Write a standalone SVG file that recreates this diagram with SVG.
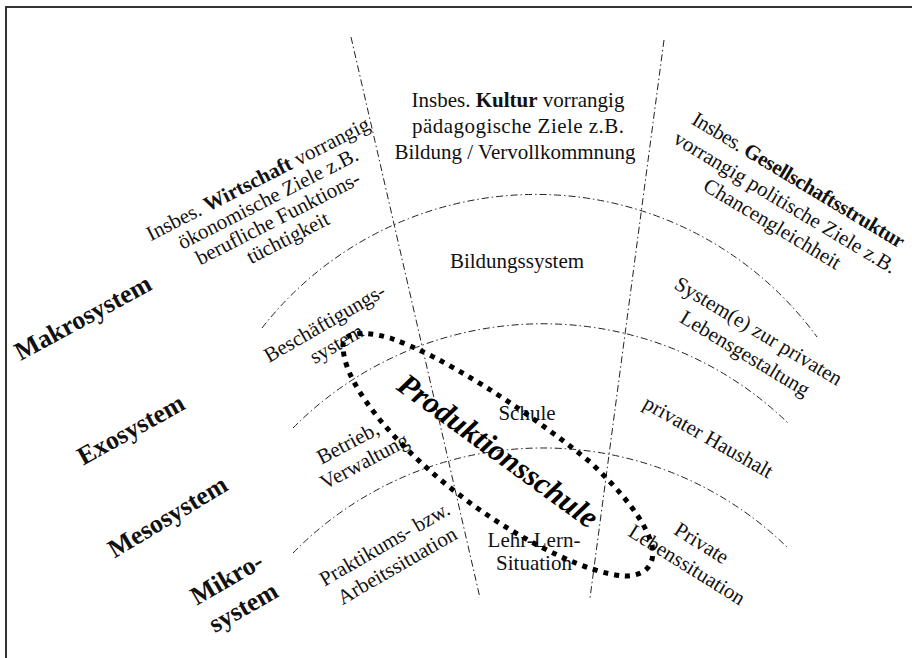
<svg xmlns="http://www.w3.org/2000/svg" width="912" height="658" viewBox="0 0 912 658">
<style>
.t{font-family:"Liberation Serif","Times New Roman",serif;font-size:21px;fill:#111}
.b{font-weight:bold}
.big{font-family:"Liberation Serif","Times New Roman",serif;font-size:26px;font-weight:bold;fill:#111}
.ps{font-family:"Liberation Serif","Times New Roman",serif;font-size:31px;font-weight:bold;font-style:italic;fill:#000}
.dd{fill:none;stroke:#222;stroke-width:1;stroke-dasharray:7 3 1.5 3}
.loop{fill:none;stroke:#000;stroke-width:5;stroke-dasharray:5 6}
</style>
<rect width="912" height="658" fill="#fff"/>
<path d="M6,658 V7 H912" fill="none" stroke="#333" stroke-width="2"/>

<g id="connectors">
  <path class="dd" d="M351,37 L480,598"/>
  <path class="dd" d="M664,40 L590,598"/>
  <path class="dd" d="M262,328 A348,348 0 0 1 817,337"/>
  <path class="dd" d="M293,428 A352,352 0 0 1 788,423"/>
  <path class="dd" d="M293,553 A350,350 0 0 1 788,548"/>
</g>

<g id="kultur" text-anchor="middle">
  <text class="t" x="518" y="107">Insbes. <tspan class="b">Kultur</tspan> vorrangig</text>
  <text class="t" x="518" y="133" textLength="212">pädagogische Ziele z.B.</text>
  <text class="t" x="515" y="159">Bildung / Vervollkommnung</text>
</g>

<g id="wirtschaft" transform="translate(261,185) rotate(-27)" text-anchor="middle">
  <text class="t" x="0" y="0">Insbes. <tspan class="b">Wirtschaft</tspan> vorrangig</text>
  <text class="t" x="0" y="22">ökonomische Ziele z.B.</text>
  <text class="t" x="0" y="44">berufliche Funktions-</text>
  <text class="t" x="0" y="66">tüchtigkeit</text>
</g>

<g id="gesellschaft" transform="translate(795,186) rotate(31)" text-anchor="middle">
  <text class="t" x="0" y="0" textLength="244">Insbes. <tspan class="b">Gesellschaftsstruktur</tspan></text>
  <text class="t" x="0" y="26">vorrangig politische Ziele z.B.</text>
  <text class="t" x="0" y="51">Chancengleichheit</text>
</g>

<g id="bildungssystem"><text class="t" x="517" y="268" text-anchor="middle">Bildungssystem</text></g>
<g id="schule"><text class="t" x="527" y="420" text-anchor="middle">Schule</text></g>
<g id="lehrlern" text-anchor="middle">
  <text class="t" x="534" y="547">Lehr-Lern-</text>
  <text class="t" x="534" y="570">Situation</text>
</g>

<g id="beschaeftigung" transform="translate(328,329) rotate(-30)" text-anchor="middle">
  <text class="t" x="0" y="0">Beschäftigungs-</text>
  <text class="t" x="0" y="24">system</text>
</g>
<g id="betrieb" transform="translate(351,449) rotate(-28)" text-anchor="middle">
  <text class="t" x="0" y="0">Betrieb,</text>
  <text class="t" x="6" y="24">Verwaltung</text>
</g>
<g id="praktikum" transform="translate(388,550) rotate(-30)" text-anchor="middle">
  <text class="t" x="0" y="0">Praktikums- bzw.</text>
  <text class="t" x="0" y="25">Arbeitssituation</text>
</g>

<g id="lebensgestaltung" transform="translate(755,337) rotate(31)" text-anchor="middle">
  <text class="t" x="0" y="0">System(e) zur privaten</text>
  <text class="t" x="0" y="26">Lebensgestaltung</text>
</g>
<g id="haushalt"><text class="t" transform="translate(705,443) rotate(29.5)" text-anchor="middle">privater Haushalt</text></g>
<g id="lebenssituation" transform="translate(698,549) rotate(32)" text-anchor="middle">
  <text class="t" x="0" y="0">Private</text>
  <text class="t" x="-1" y="26">Lebenssituation</text>
</g>

<g id="makrosystem"><text class="big" transform="translate(87,325) rotate(-28.5)" text-anchor="middle">Makrosystem</text></g>
<g id="exosystem"><text class="big" transform="translate(135,437) rotate(-29)" text-anchor="middle">Exosystem</text></g>
<g id="mesosystem"><text class="big" transform="translate(172,524) rotate(-31)" text-anchor="middle">Mesosystem</text></g>
<g id="mikrosystem" transform="translate(231,586) rotate(-30)" text-anchor="middle">
  <text class="big" x="0" y="0">Mikro-</text>
  <text class="big" x="0" y="33">system</text>
</g>

<g id="produktionsschule">
  <text class="ps" transform="translate(492,459) rotate(36)" text-anchor="middle">Produktionsschule</text>
  <path class="loop" d="M343,347 C342,332 362,330 390,338 C440,355 520,405 590,462 C620,490 645,520 652,545 C656,565 645,576 625,576 C590,574 530,545 480,510 C440,482 405,450 380,420 C360,395 344,370 343,347 Z"/>
</g>
</svg>
